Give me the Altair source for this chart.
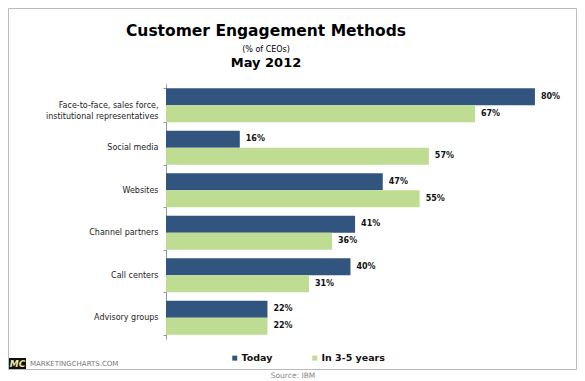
import altair as alt
import pandas as pd

categories = [
    "Face-to-face, sales force,|institutional representatives",
    "Social media",
    "Websites",
    "Channel partners",
    "Call centers",
    "Advisory groups",
]
series = ["Today", "In 3-5 years"]
today = [80, 16, 47, 41, 40, 22]
in_3_5_years = [67, 57, 55, 36, 31, 22]

rows = []
for c, t, f in zip(categories, today, in_3_5_years):
    rows.append({"method": c, "series": series[0], "value": t})
    rows.append({"method": c, "series": series[1], "value": f})
df = pd.DataFrame(rows)
df["label"] = df["value"].astype(str) + "%"

NAVY = "#31557f"
GREEN = "#bfdc93"
FONT = "DejaVu Sans"

W, H = 392, 255
PAD_L, PAD_T = 158, 76

y_enc = alt.Y(
    "method:N",
    sort=categories,
    title=None,
    scale=alt.Scale(paddingInner=0.2, paddingOuter=0.1),
    axis=alt.Axis(
        labelExpr="split(datum.label, '|')",
        tickBand="extent",
        tickSize=3,
        tickColor="#999999",
        domainColor="#999999",
        labelPadding=5,
        labelFont=FONT,
        labelFontSize=8,
        labelColor="#222222",
        labelLineHeight=11,
    ),
)
x_enc = alt.X("value:Q", scale=alt.Scale(domain=[0, 85]), axis=None)
yoff = alt.YOffset("series:N", sort=series, scale=alt.Scale(paddingInner=0, paddingOuter=0))

base = alt.Chart(df)
bars = base.mark_bar().encode(
    x=x_enc,
    y=y_enc,
    yOffset=yoff,
    color=alt.Color(
        "series:N",
        sort=series,
        scale=alt.Scale(domain=series, range=[NAVY, GREEN]),
        legend=alt.Legend(
            orient="none",
            legendX=64,
            legendY=269,
            direction="horizontal",
            title=None,
            symbolType="square",
            symbolSize=25,
            symbolStrokeWidth=0,
            labelFont=FONT,
            labelFontSize=9.5,
            labelFontWeight="bold",
            labelColor="#111111",
            labelOffset=2,
            columnPadding=37,
        ),
    ),
)
labels = base.mark_text(
    align="left", baseline="middle", dx=6, font=FONT, fontSize=8, fontWeight="bold", color="#111111"
).encode(x=x_enc, y=y_enc, yOffset=yoff, text="label:N")


def deco_text(txt, x, y, size, weight="normal", color="#000000", align="center", style="normal"):
    return alt.Chart(alt.Data(values=[{}])).mark_text(
        text=txt, align=align, baseline="middle", font=FONT, fontSize=size,
        fontWeight=weight, color=color, fontStyle=style,
    ).encode(x=alt.value(x), y=alt.value(y))


frame = alt.Chart(alt.Data(values=[{}])).mark_rect(
    fill="transparent", stroke="#bbbbbb", strokeWidth=1
).encode(x=alt.value(-157.5), x2=alt.value(410.5), y=alt.value(-75.5), y2=alt.value(285.5))

logo_box = alt.Chart(alt.Data(values=[{}])).mark_rect(color="#111111").encode(
    x=alt.value(-157), x2=alt.value(-140), y=alt.value(274), y2=alt.value(285)
)

title1 = deco_text("Customer Engagement Methods", 100, -53, 15.5, "bold")
title2 = deco_text("(% of CEOs)", 100, -34, 8)
title3 = deco_text("May 2012", 100, -21, 13, "bold")
logo_txt = deco_text("MC", -148.5, 279.5, 9, "bold", "#f2e6a0", style="italic")
brand = deco_text("MARKETINGCHARTS.COM", -136, 280, 7, "normal", "#777777", align="left")
source = deco_text("Source: IBM", 127, 292, 7.5, "normal", "#888888")

chart = alt.layer(
    frame, bars, labels, title1, title2, title3, logo_box, logo_txt, brand, source
).properties(
    width=W,
    height=H,
    padding={"left": PAD_L, "top": PAD_T, "right": 19, "bottom": 46},
    autosize=alt.AutoSizeParams(type="none"),
    background="white",
).configure_view(stroke=None)

chart.save("out.html", embed_options={"renderer": "svg", "actions": False})
